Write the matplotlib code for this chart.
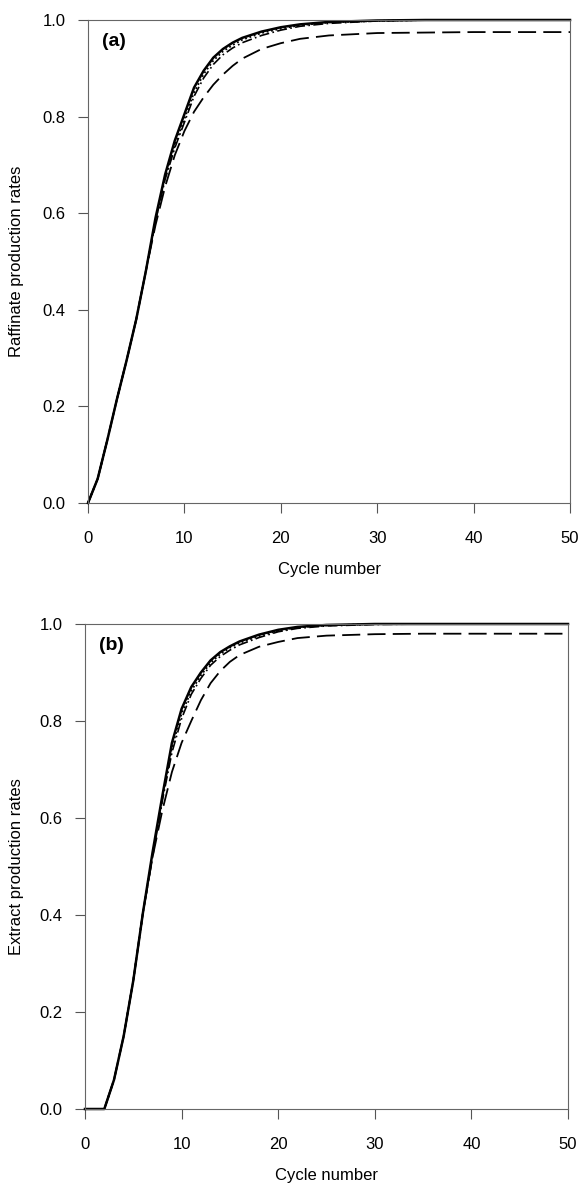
import numpy as np
import matplotlib.pyplot as plt

plt.rcParams['font.family'] = ['Liberation Sans', 'DejaVu Sans']

cycles = [0, 1, 2, 3, 4, 5, 6, 7, 8, 9, 10, 11, 12, 13, 14, 15, 16, 18, 20, 22, 25, 30, 35, 40, 45, 50]

# panel (a) - raffinate
raf_solid = [0.0, 0.05, 0.13, 0.215, 0.295, 0.38, 0.48, 0.59, 0.68, 0.75, 0.805, 0.86, 0.895, 0.922, 0.94, 0.953,
             0.963, 0.976, 0.985, 0.991, 0.996, 0.999, 1.0, 1.0, 1.0, 1.0]
raf_dot = [0.0, 0.05, 0.13, 0.215, 0.295, 0.38, 0.48, 0.585, 0.675, 0.74, 0.795, 0.85, 0.888, 0.916, 0.935, 0.948,
           0.959, 0.973, 0.982, 0.989, 0.995, 0.998, 1.0, 1.0, 1.0, 1.0]
raf_dashdot = [0.0, 0.05, 0.13, 0.215, 0.295, 0.38, 0.48, 0.583, 0.67, 0.735, 0.788, 0.842, 0.88, 0.908, 0.928, 0.942,
               0.953, 0.968, 0.979, 0.987, 0.993, 0.998, 1.0, 1.0, 1.0, 1.0]
raf_dash = [0.0, 0.05, 0.13, 0.215, 0.295, 0.38, 0.48, 0.575, 0.655, 0.72, 0.77, 0.81, 0.84, 0.866, 0.887, 0.905,
            0.92, 0.94, 0.952, 0.961, 0.968, 0.973, 0.974, 0.975, 0.975, 0.975]

# panel (b) - extract
ext_solid = [0.0, 0.0, 0.0, 0.06, 0.15, 0.265, 0.405, 0.53, 0.645, 0.755, 0.825, 0.87, 0.90, 0.925, 0.942, 0.954,
             0.964, 0.978, 0.988, 0.994, 0.998, 1.0, 1.0, 1.0, 1.0, 1.0]
ext_dot = [0.0, 0.0, 0.0, 0.06, 0.15, 0.265, 0.405, 0.525, 0.64, 0.745, 0.815, 0.862, 0.894, 0.92, 0.938, 0.951,
           0.961, 0.975, 0.986, 0.993, 0.997, 1.0, 1.0, 1.0, 1.0, 1.0]
ext_dashdot = [0.0, 0.0, 0.0, 0.06, 0.15, 0.265, 0.405, 0.52, 0.635, 0.735, 0.805, 0.855, 0.888, 0.915, 0.933, 0.946,
               0.957, 0.972, 0.984, 0.991, 0.996, 0.999, 1.0, 1.0, 1.0, 1.0]
ext_dash = [0.0, 0.0, 0.0, 0.06, 0.15, 0.265, 0.405, 0.52, 0.615, 0.695, 0.755, 0.80, 0.843, 0.878, 0.903, 0.922,
            0.936, 0.953, 0.963, 0.971, 0.976, 0.979, 0.98, 0.98, 0.98, 0.98]

panels = [
    ('(a)', 'Raffinate production rates', [raf_solid, raf_dot, raf_dashdot, raf_dash], [88, 20, 570, 503]),
    ('(b)', 'Extract production rates', [ext_solid, ext_dot, ext_dashdot, ext_dash], [85, 624, 568, 1109]),
]

W, H = 582, 1184
fig = plt.figure(figsize=(W / 100, H / 100), dpi=100)

styles = [
    dict(linestyle='-', linewidth=1.8),
    dict(linestyle=(0, (1, 1.5)), linewidth=1.3),
    dict(linestyle=(0, (6, 2, 1, 2)), linewidth=1.2),
    dict(linestyle=(0, (10, 4)), linewidth=1.3),
]

for tag, ylab, series, (x0, y0, x1, y1) in panels:
    ax = fig.add_axes([x0 / W, 1 - y1 / H, (x1 - x0) / W, (y1 - y0) / H])
    for vals, st in zip(series, styles):
        ax.plot(cycles, vals, color='black', clip_on=False, **st)
    ax.set_xlim(0, 50)
    ax.set_ylim(0, 1.0)
    ax.set_xticks([0, 10, 20, 30, 40, 50])
    ax.set_yticks([0.0, 0.2, 0.4, 0.6, 0.8, 1.0])
    ax.set_yticklabels(['0.0', '0.2', '0.4', '0.6', '0.8', '1.0'])
    ax.tick_params(direction='out', length=7, width=0.8, color='#555555', labelsize=12)
    ax.tick_params(axis='x', pad=13)
    ax.tick_params(axis='y', pad=9)
    for s in ax.spines.values():
        s.set_color('#666666')
        s.set_linewidth(0.8)
    ax.set_xlabel('Cycle number', fontsize=12, labelpad=12)
    ax.set_ylabel(ylab, fontsize=12)
    ax.yaxis.set_label_coords((24 - x0) / (x1 - x0), 0.5)
    ax.text(0.03, 0.955, tag, transform=ax.transAxes, fontsize=14, fontweight='bold', va='center', ha='left')

fig.savefig('out.png', dpi=100)
